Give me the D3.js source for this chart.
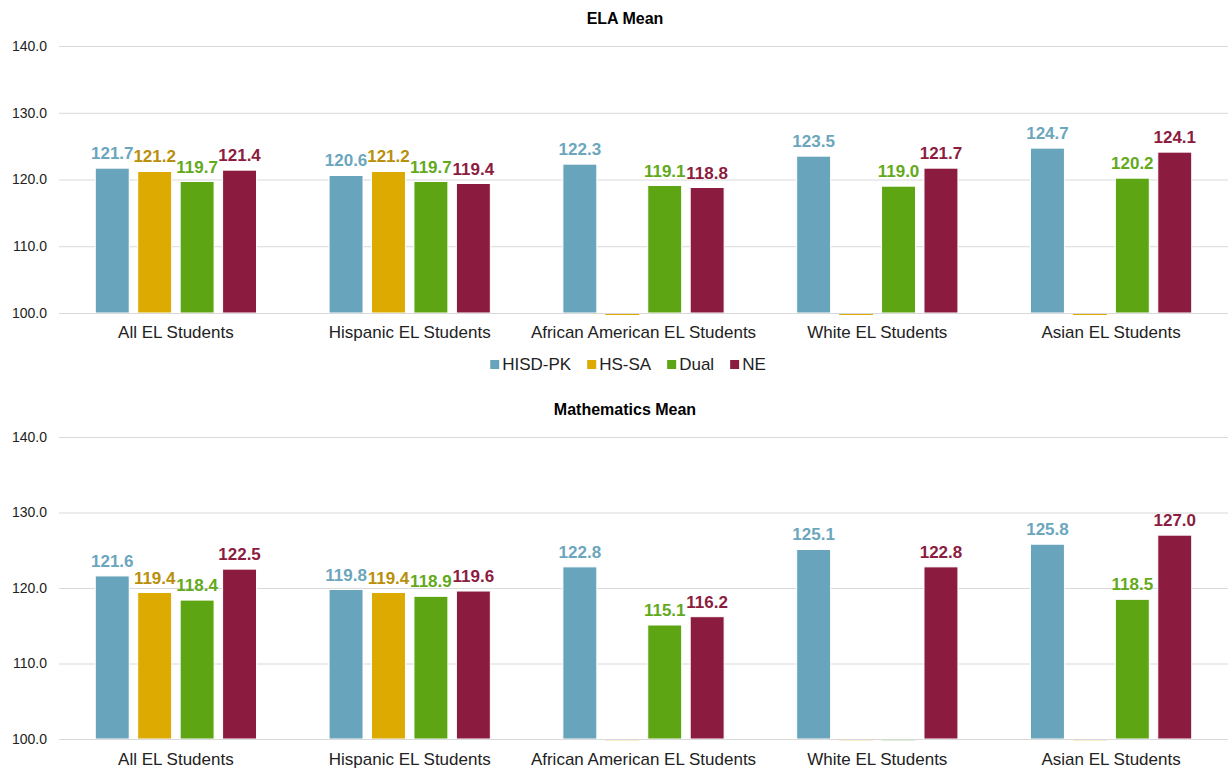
<!DOCTYPE html>
<html><head><meta charset="utf-8">
<script src="https://cdn.jsdelivr.net/npm/d3@7"></script>
<style>body{margin:0;background:#fff}svg{display:block;font-family:"Liberation Sans",Arial,sans-serif}</style>
</head><body><svg id="c" width="1228" height="770"></svg>
<script>
const categories = ["All EL Students","Hispanic EL Students","African American EL Students","White EL Students","Asian EL Students"];
const seriesNames = ["HISD-PK","HS-SA","Dual","NE"];
const yTicks = [100,110,120,130,140];
// ELA Mean
const elaHisdPk = [121.7,120.6,122.3,123.5,124.7];
const elaHsSa   = [121.2,121.2,null,null,null];
const elaDual   = [119.7,119.7,119.1,119.0,120.2];
const elaNe     = [121.4,119.4,118.8,121.7,124.1];
// Mathematics Mean
const mathHisdPk = [121.6,119.8,122.8,125.1,125.8];
const mathHsSa   = [119.4,119.4,null,null,null];
const mathDual   = [118.4,118.9,115.1,null,118.5];
const mathNe     = [122.5,119.6,116.2,122.8,127.0];

const barColors = ["#68a4bb","#dcaa00","#5ea514","#8b1c40"];
const labelColors = ["#6ba6bd","#b98f0b","#63a91c","#8b1c40"];

const svg = d3.select("#c");
const left = 59, right = 1228;

function panel(title, titleY, yTop, yBottom, data, stubOpacity, catY){
  const g = svg.append("g");
  g.append("text").attr("x",625).attr("y",titleY).attr("text-anchor","middle")
    .attr("font-size",16).attr("font-weight","bold").attr("fill","#000").text(title);
  const y = d3.scaleLinear().domain([100,140]).range([yBottom,yTop]);
  const x0 = d3.scaleBand().domain(categories).range([left,right]).padding(0);
  const bw = x0.bandwidth();
  const x1 = d3.scaleBand().domain(seriesNames).range([bw*0.137, bw*0.863]).paddingInner(0.2).paddingOuter(0.1);
  // grid
  const yAxis = d3.axisLeft(y).tickValues(yTicks).tickSize(-(right-left)).tickFormat(d3.format(".1f"));
  const ax = g.append("g").attr("transform",`translate(${left},0)`).call(yAxis);
  ax.select(".domain").remove();
  ax.selectAll(".tick line").attr("stroke","#d9d9d9").attr("stroke-width",1);
  ax.selectAll(".tick text").attr("x",-12).attr("font-size",14).attr("fill","#222").attr("font-family","'Liberation Sans',Arial,sans-serif");
  // bars
  seriesNames.forEach((s,si)=>{
    data[si].forEach((v,ci)=>{
      const bx = x0(categories[ci]) + x1(s);
      if(v==null){
        g.append("rect").attr("x",bx).attr("y",y(100)).attr("width",x1.bandwidth()).attr("height",2)
          .attr("fill",barColors[si]).attr("opacity",stubOpacity);
        return;
      }
      g.append("rect").attr("x",bx).attr("y",y(v)).attr("width",x1.bandwidth()).attr("height",y(100)-y(v))
        .attr("fill",barColors[si]).attr("stroke","#fff").attr("stroke-width",1);
      g.append("text").attr("x",bx+x1.bandwidth()/2).attr("y",y(v)-9).attr("text-anchor","middle")
        .attr("font-size",17).attr("font-weight","bold").attr("fill",labelColors[si]).text(v.toFixed(1));
    });
  });
  // baseline
  g.append("line").attr("x1",left).attr("x2",right).attr("y1",y(100)+0.5).attr("y2",y(100)+0.5).attr("stroke","#d9d9d9");
  // category labels
  categories.forEach(c=>{
    g.append("text").attr("x",x0(c)+bw/2).attr("y",catY).attr("text-anchor","middle")
      .attr("font-size",17).attr("fill","#222").text(c);
  });
}

panel("ELA Mean",24,46,313,[elaHisdPk,elaHsSa,elaDual,elaNe],1,338);
panel("Mathematics Mean",415,437,739,[mathHisdPk,mathHsSa,mathDual,mathNe],0.2,765);

// legend
const lg = svg.append("g");
let lx = 0;
seriesNames.forEach((s,i)=>{
  const it = lg.append("g").attr("transform",`translate(${lx},0)`);
  it.append("rect").attr("x",0).attr("y",-10).attr("width",9).attr("height",9).attr("fill",barColors[i]);
  const t = it.append("text").attr("x",12).attr("y",0).attr("font-size",17).attr("fill","#222").text(s);
  lx += 12 + t.node().getComputedTextLength() + 16;
});
const lw = lx-16;
lg.attr("transform",`translate(${628-lw/2},370)`);
</script></body></html>
